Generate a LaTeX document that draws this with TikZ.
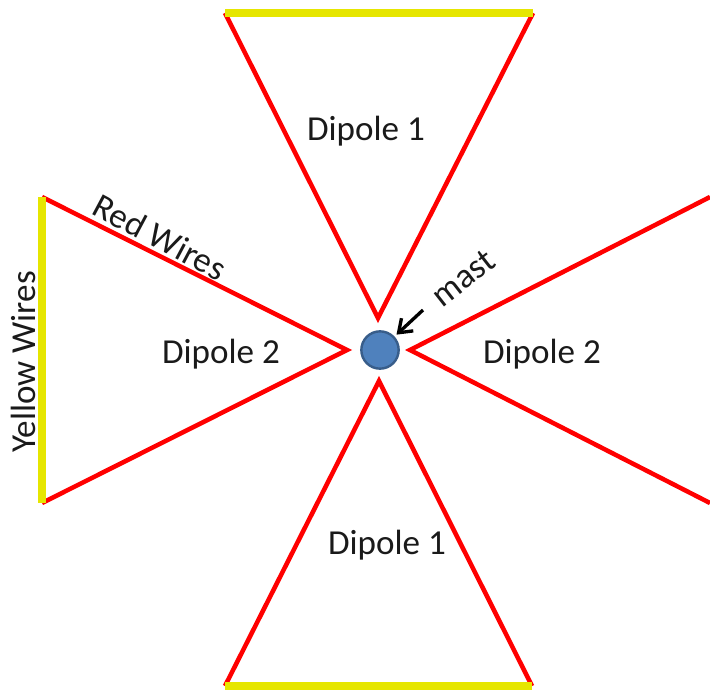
\documentclass[tikz,border=0pt]{standalone}
\usepackage{fontspec}
\usetikzlibrary{arrows.meta}
\setmainfont{Carlito}
\definecolor{WireRed}{HTML}{FF0000}
\definecolor{WireYellow}{HTML}{E6E600}
\definecolor{MastBlue}{HTML}{4F81BD}
\definecolor{MastEdge}{HTML}{385D8A}
\definecolor{LabelInk}{HTML}{1A1A1A}
\begin{document}
\begin{tikzpicture}[
    x=0.75pt,y=-0.75pt,
    redwire/.style={draw=WireRed,line width=3.4pt},
    yellowwire/.style={draw=WireYellow,line width=6pt},
    lbl/.style={font=\fontsize{26.3}{30}\selectfont,text=LabelInk,inner sep=0pt},
    mastdot/.style={circle,draw=MastEdge,line width=1.8pt,fill=MastBlue,minimum size=28pt,inner sep=0pt},
    arrow/.style={-{Straight Barb[length=9pt,width=13pt]},line width=2.5pt,draw=black,shorten >=2pt}
  ]
    \useasboundingbox (0,0) rectangle (710,691);
    % corners of the four loops
    \coordinate (topL) at (225,13);
    \coordinate (topR) at (533,13);
    \coordinate (topA) at (378,318);
    \coordinate (botL) at (225,686);
    \coordinate (botR) at (532,686);
    \coordinate (botA) at (379,381);
    \coordinate (lftT) at (42,197);
    \coordinate (lftB) at (42,503);
    \coordinate (lftA) at (347,350);
    \coordinate (rgtT) at (710,197);
    \coordinate (rgtB) at (710,503);
    \coordinate (rgtA) at (410,350);
    \coordinate (mastarrow) at (423,310);
    \draw[redwire] (topL) -- (topA) -- (topR);
    \draw[redwire] (botL) -- (botA) -- (botR);
    \draw[redwire] (lftT) -- (lftA) -- (lftB);
    \draw[redwire] (rgtT) -- (rgtA) -- (rgtB);
    \draw[yellowwire] (topL) -- (topR);
    \draw[yellowwire] (botL) -- (botR);
    \draw[yellowwire] (lftT) -- (lftB);
    \node[mastdot] (mast) at (380,350) {};
    \node[lbl,rotate=38] (mastlbl) at (463,278) {mast};
    \draw[arrow] (mastarrow) -- (mast);
    \node[lbl] (d1top) at (366,131) {Dipole 1};
    \node[lbl] (d1bot) at (387,545) {Dipole 1};
    \node[lbl] (d2lft) at (221,354) {Dipole 2};
    \node[lbl] (d2rgt) at (542,354) {Dipole 2};
    \node[lbl,rotate=-28] (redlbl) at (160,237) {Red Wires};
    \node[lbl,rotate=90] (yellbl) at (23,362) {Yellow Wires};
  \end{tikzpicture}
\end{document}
